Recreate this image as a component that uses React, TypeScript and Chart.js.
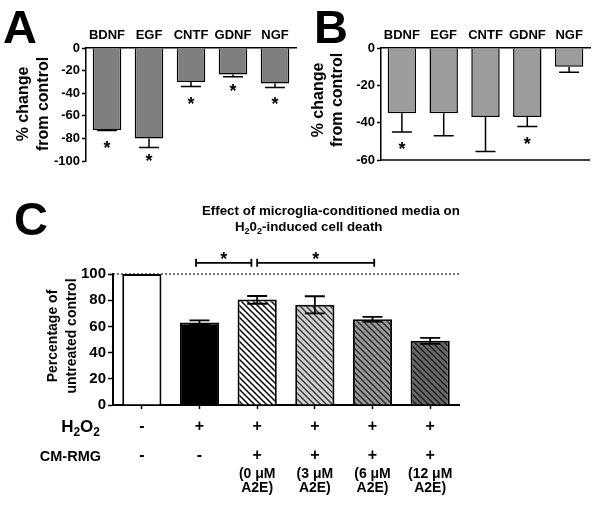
import React, { useEffect, useRef } from 'react';
import { Chart, registerables } from 'chart.js';
Chart.register(...registerables);

const FONT = "'Liberation Sans', Arial, Helvetica, sans-serif";

// ---- Panel A data ----
const factorsA = ['BDNF', 'EGF', 'CNTF', 'GDNF', 'NGF'];
const valuesA = [-72.5, -80, -30, -23.5, -31.5];
const errEndA = [-73, -88, -34, -25.5, -35];
const starsA: (number | null)[] = [-85, -96.5, -46, -34.5, -46];
const ticksA = { min: -100, max: 0, step: 20 };

// ---- Panel B data ----
const factorsB = ['BDNF', 'EGF', 'CNTF', 'GDNF', 'NGF'];
const valuesB = [-35, -35, -37, -37, -10];
const errEndB = [-45, -47, -55.5, -42, -13];
const starsB: (number | null)[] = [-52, null, null, -49, null];
const ticksB = { min: -60, max: 0, step: 20 };

// ---- Panel C data ----
const groupsC = ['Control', 'H2O2', 'CM 0 uM', 'CM 3 uM', 'CM 6 uM', 'CM 12 uM'];
const valuesC = [100, 63, 80.5, 76.5, 65.5, 49];
const errHiC: (number | null)[] = [null, 64.6, 83.2, 83, 67.3, 51.3];
const errLoC: (number | null)[] = [null, 61.5, 77.3, 70, 63.6, 46.6];
const h2o2Row = ['-', '+', '+', '+', '+', '+'];
const cmRow = ['-', '-', '+', '+', '+', '+'];
const a2eLine1 = ['', '', '(0 \u03bcM', '(3 \u03bcM', '(6 \u03bcM', '(12 \u03bcM'];
const a2eLine2 = ['', '', 'A2E)', 'A2E)', 'A2E)', 'A2E)'];
const bracketsC = [
  { from: 0.94, to: 1.9, level: 108.5, star: 114.5 },
  { from: 2.0, to: 4.03, level: 108.5, star: 114.5 },
];
const ticksC = { min: 0, max: 100, step: 20 };

function drawStar(ctx: CanvasRenderingContext2D, x: number, yc: number) {
  const size = 18;
  ctx.font = `bold ${size}px ${FONT}`;
  ctx.textAlign = 'center';
  ctx.textBaseline = 'alphabetic';
  ctx.fillStyle = '#000';
  ctx.fillText('*', x, yc + size * 0.56);
}

function rich(
  ctx: CanvasRenderingContext2D,
  parts: [string, boolean][],
  x: number,
  y: number,
  size: number,
  align: 'left' | 'right'
) {
  const big = `bold ${size}px ${FONT}`;
  const small = `bold ${Math.round(size * 0.68)}px ${FONT}`;
  let w = 0;
  parts.forEach(([t, sub]) => {
    ctx.font = sub ? small : big;
    w += ctx.measureText(t).width;
  });
  let cx = align === 'right' ? x - w : x;
  ctx.textAlign = 'left';
  ctx.textBaseline = 'alphabetic';
  ctx.fillStyle = '#000';
  parts.forEach(([t, sub]) => {
    ctx.font = sub ? small : big;
    ctx.fillText(t, cx, sub ? y + size * 0.25 : y);
    cx += ctx.measureText(t).width;
  });
}

function rotatedLines(
  ctx: CanvasRenderingContext2D,
  lines: string[],
  xs: number[],
  yc: number,
  size: number
) {
  ctx.font = `bold ${size}px ${FONT}`;
  ctx.fillStyle = '#000';
  ctx.textAlign = 'center';
  ctx.textBaseline = 'middle';
  lines.forEach((l, i) => {
    ctx.save();
    ctx.translate(xs[i], yc);
    ctx.rotate(-Math.PI / 2);
    ctx.fillText(l, 0, 0);
    ctx.restore();
  });
}

function hatch(bg: string, line: string): CanvasPattern {
  const s = 6;
  const c = document.createElement('canvas');
  c.width = s;
  c.height = s;
  const x = c.getContext('2d')!;
  x.fillStyle = bg;
  x.fillRect(0, 0, s, s);
  x.strokeStyle = line;
  x.lineWidth = 1.5;
  x.beginPath();
  x.moveTo(-1, -1);
  x.lineTo(s + 1, s + 1);
  x.moveTo(-1, s - 1);
  x.lineTo(1, s + 1);
  x.moveTo(s - 1, -1);
  x.lineTo(s + 1, 1);
  x.stroke();
  return x.createPattern(c, 'repeat')!;
}

type FactorOpts = {
  labels: string[];
  values: number[];
  errEnd: number[];
  stars: (number | null)[];
  range: { min: number; max: number; step: number };
  fill: string;
  yWidth: number;
  padRight: number;
  padBottom: number;
  letter: string;
  letterX: number;
  titleXs: number[];
  titleY: number;
  bottomLine: boolean;
  tickSize: number;
};

function makeFactorChart(canvas: HTMLCanvasElement, o: FactorOpts) {
  return new Chart(canvas, {
    type: 'bar',
    data: {
      labels: o.labels,
      datasets: [
        {
          data: o.values,
          backgroundColor: o.fill,
          borderColor: '#000',
          borderWidth: 1.5,
          barPercentage: 0.68,
          categoryPercentage: 1,
        },
      ],
    },
    options: {
      responsive: false,
      maintainAspectRatio: false,
      devicePixelRatio: 1,
      animation: false,
      events: [],
      layout: { padding: { left: 0, top: 0, right: o.padRight, bottom: o.padBottom } },
      plugins: { legend: { display: false }, tooltip: { enabled: false }, title: { display: false } },
      scales: {
        x: {
          position: 'top',
          grid: { display: true, drawOnChartArea: false, drawTicks: false },
          border: { display: true, color: '#000', width: 1.5 },
          ticks: {
            color: '#000',
            font: { family: FONT, weight: 'bold', size: 13 },
            padding: 5,
            maxRotation: 0,
            minRotation: 0,
            autoSkip: false,
          },
          afterFit: (s: any) => {
            s.height = 48;
          },
        },
        y: {
          min: o.range.min,
          max: o.range.max,
          ticks: {
            stepSize: o.range.step,
            color: '#000',
            font: { family: FONT, weight: 'bold', size: o.tickSize },
            padding: 2,
          },
          grid: { drawOnChartArea: false, tickLength: 4, tickColor: '#000', tickWidth: 1.5 },
          border: { display: true, color: '#000', width: 1.5 },
          afterFit: (s: any) => {
            s.width = o.yWidth;
          },
        },
      },
    },
    plugins: [
      {
        id: 'factorExtras',
        afterDatasetsDraw(chart: any) {
          const ctx: CanvasRenderingContext2D = chart.ctx;
          const xs = chart.scales.x;
          const ys = chart.scales.y;
          const area = chart.chartArea;
          ctx.save();
          ctx.strokeStyle = '#000';
          ctx.lineWidth = 1.5;
          o.values.forEach((v, i) => {
            const px = xs.getPixelForValue(i);
            const y0 = ys.getPixelForValue(v);
            const y1 = ys.getPixelForValue(o.errEnd[i]);
            ctx.beginPath();
            ctx.moveTo(px, y0);
            ctx.lineTo(px, y1);
            ctx.moveTo(px - 10, y1);
            ctx.lineTo(px + 10, y1);
            ctx.stroke();
            const st = o.stars[i];
            if (st !== null) drawStar(ctx, px, ys.getPixelForValue(st));
          });
          if (o.bottomLine) {
            ctx.beginPath();
            ctx.moveTo(area.left, area.bottom);
            ctx.lineTo(area.right, area.bottom);
            ctx.stroke();
          }
          ctx.fillStyle = '#000';
          ctx.font = `bold 47px ${FONT}`;
          ctx.textAlign = 'left';
          ctx.textBaseline = 'alphabetic';
          ctx.fillText(o.letter, o.letterX, 43);
          rotatedLines(ctx, ['% change', 'from control'], o.titleXs, o.titleY, 16);
          ctx.restore();
        },
      },
    ],
  } as any);
}

function makeCChart(canvas: HTMLCanvasElement) {
  const fills = [
    '#ffffff',
    '#000000',
    hatch('#ffffff', '#000000'),
    hatch('#d4d4d4', '#3a3a3a'),
    hatch('#9a9a9a', '#2a2a2a'),
    hatch('#6a6a6a', '#1a1a1a'),
  ];
  return new Chart(canvas, {
    type: 'bar',
    data: {
      labels: groupsC,
      datasets: [
        {
          data: valuesC,
          backgroundColor: fills,
          borderColor: '#000',
          borderWidth: 2,
          barPercentage: 0.68,
          categoryPercentage: 1,
        },
      ],
    },
    options: {
      responsive: false,
      maintainAspectRatio: false,
      devicePixelRatio: 1,
      animation: false,
      events: [],
      layout: { padding: { left: 0, top: 94, right: 141, bottom: 0 } },
      plugins: { legend: { display: false }, tooltip: { enabled: false }, title: { display: false } },
      scales: {
        x: {
          grid: { display: true, drawOnChartArea: false, offset: false, tickLength: 4, tickColor: '#000', tickWidth: 1.5 },
          border: { display: true, color: '#000', width: 2 },
          ticks: { display: false },
          afterFit: (s: any) => {
            s.height = 104;
          },
        },
        y: {
          min: ticksC.min,
          max: ticksC.max,
          ticks: {
            stepSize: ticksC.step,
            color: '#000',
            font: { family: FONT, weight: 'bold', size: 15 },
            padding: 2,
          },
          grid: { drawOnChartArea: false, tickLength: 5, tickColor: '#000', tickWidth: 1.5 },
          border: { display: true, color: '#000', width: 2 },
          afterFit: (s: any) => {
            s.width = 113;
          },
        },
      },
    },
    plugins: [
      {
        id: 'cExtras',
        beforeDatasetsDraw(chart: any) {
          const ctx: CanvasRenderingContext2D = chart.ctx;
          const area = chart.chartArea;
          const ys = chart.scales.y;
          const y100 = ys.getPixelForValue(100);
          ctx.save();
          ctx.strokeStyle = '#333';
          ctx.lineWidth = 1.3;
          ctx.setLineDash([2, 2]);
          ctx.beginPath();
          ctx.moveTo(area.left, y100);
          ctx.lineTo(area.right, y100);
          ctx.stroke();
          ctx.restore();
        },
        afterDatasetsDraw(chart: any) {
          const ctx: CanvasRenderingContext2D = chart.ctx;
          const xs = chart.scales.x;
          const ys = chart.scales.y;
          ctx.save();
          ctx.strokeStyle = '#000';
          ctx.lineWidth = 1.8;
          valuesC.forEach((_, i) => {
            const hi = errHiC[i];
            const lo = errLoC[i];
            if (hi === null || lo === null) return;
            const px = xs.getPixelForValue(i);
            const yh = ys.getPixelForValue(hi);
            const yl = ys.getPixelForValue(lo);
            ctx.beginPath();
            ctx.moveTo(px, yh);
            ctx.lineTo(px, yl);
            ctx.moveTo(px - 10, yh);
            ctx.lineTo(px + 10, yh);
            ctx.moveTo(px - 10, yl);
            ctx.lineTo(px + 10, yl);
            ctx.stroke();
          });
          // significance brackets
          ctx.lineWidth = 1.8;
          bracketsC.forEach((b) => {
            const x0 = xs.getPixelForValue(b.from);
            const x1 = xs.getPixelForValue(b.to);
            const y = ys.getPixelForValue(b.level);
            ctx.beginPath();
            ctx.moveTo(x0, y);
            ctx.lineTo(x1, y);
            ctx.moveTo(x0, y - 4);
            ctx.lineTo(x0, y + 4);
            ctx.moveTo(x1, y - 4);
            ctx.lineTo(x1, y + 4);
            ctx.stroke();
            drawStar(ctx, (x0 + x1) / 2, ys.getPixelForValue(b.star));
          });
          // title
          ctx.fillStyle = '#000';
          ctx.font = `bold 13.3px ${FONT}`;
          ctx.textAlign = 'left';
          ctx.textBaseline = 'alphabetic';
          ctx.fillText('Effect of microglia-conditioned media on', 202, 35);
          rich(
            ctx,
            [
              ['H', false],
              ['2', true],
              ['0', false],
              ['2', true],
              ['-induced cell death', false],
            ],
            235,
            51,
            13.3,
            'left'
          );
          // panel letter
          ctx.font = `bold 47px ${FONT}`;
          ctx.fillText('C', 14, 55);
          // y title
          rotatedLines(ctx, ['Percentage of', 'untreated control'], [53, 72], 156, 14);
          // treatment rows
          rich(ctx, [['H', false], ['2', true], ['O', false], ['2', true]], 100, 252, 17, 'right');
          ctx.font = `bold 14.5px ${FONT}`;
          ctx.textAlign = 'right';
          ctx.textBaseline = 'alphabetic';
          ctx.fillText('CM-RMG', 101, 281);
          valuesC.forEach((_, i) => {
            const px = xs.getPixelForValue(i);
            ctx.textAlign = 'center';
            ctx.textBaseline = 'middle';
            ctx.font = `bold 16px ${FONT}`;
            ctx.fillText(h2o2Row[i], px, 247);
            ctx.fillText(cmRow[i], px, 276);
            ctx.font = `bold 14px ${FONT}`;
            ctx.fillText(a2eLine1[i], px, 294);
            ctx.fillText(a2eLine2[i], px, 308);
          });
          ctx.restore();
        },
      },
    ],
  } as any);
}

export default function App() {
  const refA = useRef<HTMLCanvasElement>(null);
  const refB = useRef<HTMLCanvasElement>(null);
  const refC = useRef<HTMLCanvasElement>(null);

  useEffect(() => {
    document.body.style.margin = '0';
    const a = makeFactorChart(refA.current!, {
      labels: factorsA,
      values: valuesA,
      errEnd: errEndA,
      stars: starsA,
      range: ticksA,
      fill: '#7f7f7f',
      yWidth: 86,
      padRight: 4,
      padBottom: 19,
      letter: 'A',
      letterX: 3,
      titleXs: [24, 44],
      titleY: 104,
      bottomLine: false,
      tickSize: 13,
    });
    const b = makeFactorChart(refB.current!, {
      labels: factorsB,
      values: valuesB,
      errEnd: errEndB,
      stars: starsB,
      range: ticksB,
      fill: '#9c9c9c',
      yWidth: 81,
      padRight: 10,
      padBottom: 20,
      letter: 'B',
      letterX: 14,
      titleXs: [18.5, 38],
      titleY: 100,
      bottomLine: true,
      tickSize: 13,
    });
    const c = makeCChart(refC.current!);
    return () => {
      a.destroy();
      b.destroy();
      c.destroy();
    };
  }, []);

  return (
    <div style={{ position: 'fixed', left: 0, top: 0, width: 600, height: 509, background: '#fff' }}>
      <canvas ref={refA} width={300} height={180} style={{ position: 'absolute', left: 0, top: 0, width: 300, height: 180 }} />
      <canvas ref={refB} width={300} height={180} style={{ position: 'absolute', left: 300, top: 0, width: 300, height: 180 }} />
      <canvas ref={refC} width={600} height={329} style={{ position: 'absolute', left: 0, top: 180, width: 600, height: 329 }} />
    </div>
  );
}
